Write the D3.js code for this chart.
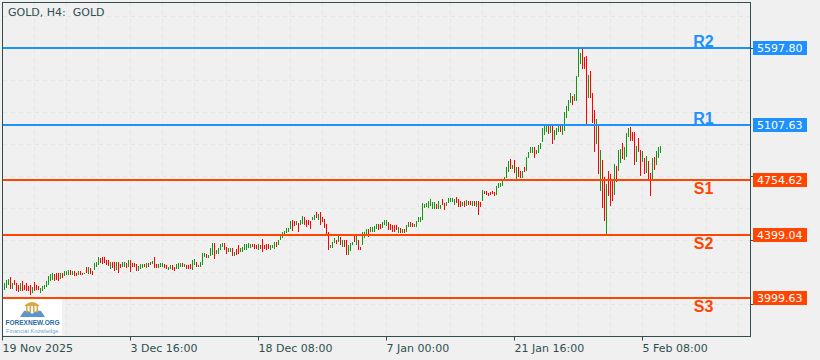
<!DOCTYPE html>
<html>
<head>
<meta charset="utf-8">
<script src="https://cdn.jsdelivr.net/npm/d3@7"></script>
<style>
	html, body { margin: 0; padding: 0; background: #f0f0f0; }
	svg { display: block; }
	text { font-family: "DejaVu Sans", sans-serif; }
</style>
</head>
<body>
<svg id="chart"></svg>
<script>
const barHigh = [
	4098,4115,4122,4132,4098,4111,4094,4083,4094,4109,4083,4094,4073,4083,4068,4100,4083,4073,4066,4073,
	4083,4105,4141,4152,4162,4152,4158,4158,4158,4162,4173,4173,4175,4175,4169,4169,4162,4169,4169,4162,
	4162,4194,4194,4190,4169,4222,4228,4258,4254,4258,4264,4243,4243,4232,4232,4228,4228,4232,4215,4228,
	4228,4222,4239,4243,4222,4222,4215,4205,4215,4217,4215,4222,4222,4228,4237,4260,4215,4215,4222,4222,
	4215,4207,4200,4207,4211,4200,4215,4222,4222,4222,4215,4211,4211,4215,4243,4247,4232,4211,4228,4286,
	4286,4281,4275,4318,4350,4350,4303,4318,4343,4350,4350,4328,4318,4318,4318,4296,4313,4339,4318,4328,
	4345,4345,4350,4345,4345,4343,4339,4345,4339,4375,4339,4345,4345,4339,4339,4356,4356,4371,4403,4422,
	4428,4445,4445,4494,4499,4494,4494,4477,4499,4524,4516,4499,4499,4494,4516,4531,4548,4535,4548,4516,
	4505,4473,4420,4339,4356,4382,4371,4399,4392,4371,4371,4371,4339,4350,4360,4403,4403,4371,4328,4420,
	4424,4439,4439,4452,4452,4460,4473,4473,4473,4488,4499,4499,4488,4473,4467,4467,4467,4456,4445,4439,
	4439,4467,4482,4488,4477,4473,4494,4514,4514,4605,4599,4605,4616,4633,4612,4612,4599,4622,4595,4633,
	4605,4612,4637,4641,4641,4631,4644,4633,4616,4612,4622,4627,4622,4616,4616,4616,4616,4616,4612,4690,
	4680,4680,4673,4675,4680,4675,4716,4733,4737,4744,4771,4839,4876,4888,4850,4882,4839,4839,4812,4812,
	4839,4903,4935,4963,4963,4963,4946,4978,4988,5085,5112,5106,5099,5110,5106,5074,5084,5106,5106,5112,
	5191,5229,5265,5310,5293,5304,5419,5596,5568,5596,5542,5549,5425,5451,5310,5202,5144,5106,4946,4882,
	4775,4729,4812,4791,4761,4857,4844,4946,4952,4991,4965,5055,5087,5093,5061,5061,4972,5023,4946,4940,
	4897,4908,4876,4799,4897,4903,4940,4965,4972
];
const barLow = [
	4051,4062,4083,4056,4058,4083,4041,4037,4045,4041,4051,4045,4041,4019,4034,4045,4051,4047,4034,4041,
	4056,4068,4083,4105,4115,4105,4115,4105,4120,4126,4137,4143,4147,4143,4147,4141,4137,4143,4147,4147,
	4152,4158,4152,4154,4147,4175,4196,4207,4222,4215,4222,4211,4205,4186,4190,4169,4175,4158,4190,4194,
	4196,4190,4194,4164,4200,4194,4169,4173,4183,4190,4194,4190,4196,4211,4215,4190,4190,4190,4194,4200,
	4190,4186,4179,4186,4179,4169,4186,4186,4194,4200,4196,4183,4183,4183,4179,4211,4200,4200,4200,4207,
	4258,4254,4254,4269,4275,4249,4281,4281,4307,4324,4307,4281,4290,4296,4269,4269,4275,4281,4296,4296,
	4303,4307,4318,4318,4324,4313,4311,4307,4313,4296,4311,4303,4311,4307,4318,4311,4328,4335,4371,4382,
	4407,4414,4420,4441,4428,4460,4465,4422,4467,4471,4467,4456,4467,4441,4499,4499,4509,4499,4467,4488,
	4445,4409,4303,4318,4318,4350,4345,4360,4339,4328,4328,4271,4271,4301,4339,4360,4339,4307,4307,4339,
	4382,4403,4392,4418,4424,4424,4439,4435,4439,4445,4467,4460,4435,4435,4424,4418,4435,4414,4414,4414,
	4414,4418,4452,4452,4452,4456,4456,4482,4482,4499,4573,4578,4573,4584,4569,4569,4569,4569,4567,4595,
	4563,4584,4605,4612,4612,4595,4605,4578,4578,4584,4580,4584,4595,4595,4590,4590,4578,4531,4580,4616,
	4665,4658,4652,4658,4665,4652,4658,4701,4707,4716,4744,4765,4803,4825,4822,4797,4761,4771,4765,4765,
	4803,4812,4893,4929,4929,4897,4918,4925,4950,4999,5042,5063,5048,5052,4984,5010,5042,5063,5063,5042,
	5067,5152,5195,5246,5234,5259,5259,5414,5496,5464,5464,5112,5280,5280,5119,4935,4984,4793,4680,4577,
	4494,4409,4654,4590,4616,4658,4743,4814,4863,4889,4878,4903,5031,5005,5005,4850,4871,4933,4782,4871,
	4793,4799,4761,4648,4759,4818,4850,4895,4929
];
// 1 = rising bar (green), 0 = falling bar (red)
const barUp = [
	1,1,1,0,1,0,0,0,1,0, 0,0,0,0,1,0,0,0,1,1, 1,1,1,1,1,0,0,0,1,0, 1,1,1,0,1,0,0,1,0,0,
	1,0,1,0,0,1,1,1,0,0, 0,0,0,1,0,0,1,0,0,1, 1,0,1,0,0,0,0,1,1,1, 0,1,0,1,1,0,0,1,1,1,
	0,0,1,1,0,0,1,1,1,0, 1,0,0,0,1,1,0,1,1,1, 1,0,1,1,1,0,1,1,1,1, 0,0,1,1,0,1,0,0,1,1,
	1,1,1,1,0,0,0,1,0,0, 0,0,0,1,1,1,0,1,1,1, 1,1,1,1,0,0,1,0,1,1, 0,0,0,0,1,1,0,1,0,0,
	0,0,0,1,1,1,0,1,0,1, 0,0,1,1,1,0,1,0,0,1, 1,1,0,1,1,1,1,0,0,1, 1,1,0,0,0,0,0,1,0,1,
	0,1,1,0,0,1,1,1,1,1, 1,1,1,1,1,1,0,1,1,0, 0,1,1,1,1,1,0,0,0,1, 0,1,0,0,1,0,1,0,0,1,
	0,0,0,0,0,0,1,1,1,1, 1,1,1,0,1,0,1,0,0,1, 0,1,1,1,1,0,1,1,1,1, 1,1,0,1,0,1,1,1,0,1,
	1,1,1,1,0,1,1,1,1,0, 0,0,1,0,0,0,1,0,1,0, 0,1,0,0,0,1,0,1,1,0, 1,1,1,0,0,0,1,0,0,1,
	0,1,0,0,1,0,1,1,1
];

const levelNames = ["R2", "R1", "S1", "S2", "S3"];
const levelPrices = [5597.80, 5107.63, 4754.62, 4399.04, 3999.63];
const timeLabels = ["19 Nov 2025", "3 Dec 16:00", "18 Dec 08:00", "7 Jan 00:00", "21 Jan 16:00", "5 Feb 08:00"];
const timeIndex = [-1, 63, 127, 191, 255, 319];

const width = 820, height = 360;
const plot = { left: 2.5, right: 750.5, top: 2.5, bottom: 336.5 };
const blue = "#1e90ff", orange = "#ff4500", axisColor = "#2f4f4f";

const svg = d3.select("#chart").attr("width", width).attr("height", height);

// one bar every 2px, price scale pinned on the two outer levels
const xScale = d3.scaleLinear().domain([0, 328]).range([4.5, 660.5]);
const yScale = d3.scaleLinear().domain([3999.63, 5597.80]).range([297.9, 47.9]);

// Grid
const grid = svg.append("g")
	.attr("stroke", "#e6e6e6")
	.attr("stroke-dasharray", "4,4")
	.attr("shape-rendering", "crispEdges");

grid.selectAll(".gv")
	.data(d3.range(-1, 372, 16))
	.enter().append("line")
	.attr("x1", d => xScale(d)).attr("x2", d => xScale(d))
	.attr("y1", plot.top).attr("y2", plot.bottom);

grid.selectAll(".gh")
	.data(d3.range(16.5, 336, 32))
	.enter().append("line")
	.attr("x1", plot.left).attr("x2", plot.right)
	.attr("y1", d => d).attr("y2", d => d);

// Bars
svg.append("g")
	.attr("shape-rendering", "crispEdges")
	.selectAll("line")
	.data(barHigh)
	.enter().append("line")
	.attr("x1", (d, i) => xScale(i))
	.attr("x2", (d, i) => xScale(i))
	.attr("y1", d => yScale(d))
	.attr("y2", (d, i) => yScale(barLow[i]))
	.attr("stroke", (d, i) => barUp[i] ? "#149614" : "#ff0000")
	.attr("stroke-width", 1);

// Levels
const levelColor = d => d[0] === "R" ? blue : orange;

svg.append("g")
	.attr("shape-rendering", "crispEdges")
	.selectAll("line")
	.data(levelPrices)
	.enter().append("line")
	.attr("x1", plot.left).attr("x2", plot.right)
	.attr("y1", d => Math.round(yScale(d))).attr("y2", d => Math.round(yScale(d)))
	.attr("stroke", (d, i) => levelColor(levelNames[i]))
	.attr("stroke-width", 2);

svg.append("g").selectAll("text")
	.data(levelNames)
	.enter().append("text")
	.attr("x", 703.5)
	.attr("y", (d, i) => Math.round(yScale(levelPrices[i])) + (d[0] === "R" ? -1 : 14))
	.attr("text-anchor", "middle")
	.attr("fill", levelColor)
	.style("font-family", "'Liberation Sans', sans-serif")
	.style("font-weight", "bold")
	.style("font-size", "16px")
	.text(d => d);

// Frame and axes
svg.append("rect")
	.attr("x", plot.left).attr("y", plot.top)
	.attr("width", plot.right - plot.left).attr("height", plot.bottom - plot.top)
	.attr("fill", "none").attr("stroke", axisColor);

const xAxis = d3.axisBottom(xScale)
	.tickValues(timeIndex)
	.tickSize(4)
	.offset(0)
	.tickFormat((d, i) => timeLabels[i]);

const xAxisGroup = svg.append("g")
	.attr("transform", `translate(0,${plot.bottom})`)
	.call(xAxis);
xAxisGroup.select(".domain").remove();
xAxisGroup.selectAll("line").attr("stroke", axisColor);
xAxisGroup.selectAll("text")
	.attr("text-anchor", "start")
	.attr("x", 0)
	.attr("y", 7.5)
	.attr("fill", axisColor)
	.style("font-size", "11px");

const yAxis = d3.axisRight(yScale)
	.tickValues([48, 176, 240, 304].map(yScale.invert))
	.tickSize(3)
	.tickFormat("");

const yAxisGroup = svg.append("g")
	.attr("transform", `translate(${plot.right},0)`)
	.call(yAxis);
yAxisGroup.select(".domain").remove();
yAxisGroup.selectAll("line").attr("stroke", axisColor);

// Price tags
const tags = svg.append("g").selectAll("g")
	.data(levelPrices)
	.enter().append("g")
	.attr("transform", d => `translate(753,${Math.round(yScale(d)) - 7})`);

tags.append("rect")
	.attr("width", 54).attr("height", 14)
	.attr("fill", (d, i) => levelColor(levelNames[i]));

tags.append("text")
	.attr("x", 4).attr("y", 11)
	.attr("fill", "#ffffff")
	.style("font-size", "11px")
	.text(d => d.toFixed(2));

// Title
svg.append("text")
	.attr("x", 8).attr("y", 16)
	.attr("fill", axisColor)
	.attr("xml:space", "preserve")
	.style("white-space", "pre")
	.style("font-size", "11px")
	.text("GOLD, H4:  GOLD");

// Logo
const logo = svg.append("g");
logo.append("rect")
	.attr("x", 3).attr("y", 299).attr("width", 59).attr("height", 36)
	.attr("fill", "#ffffff");
logo.append("path")
	.attr("d", "M20,317 L24,311 Q29,310 32,314 Q36,310 41,311 L45,317 Z")
	.attr("fill", "#5b95cf");
logo.append("path")
	.attr("d", "M25,305 Q32,299 39,305 L39,306 L25,306 Z")
	.attr("fill", "#d8aa45");
logo.selectAll(".column")
	.data([26, 29.5, 33, 36.5])
	.enter().append("rect")
	.attr("x", d => d).attr("y", 306)
	.attr("width", 1.6).attr("height", 6.5)
	.attr("fill", "#d8aa45");
logo.append("text")
	.attr("x", 5.5).attr("y", 324.5)
	.attr("textLength", 54).attr("lengthAdjust", "spacingAndGlyphs")
	.attr("fill", "#2a6aa5")
	.style("font-family", "'Liberation Sans', sans-serif")
	.style("font-weight", "bold")
	.style("font-size", "7.5px")
	.text("FOREXNEW.ORG");
logo.append("text")
	.attr("x", 6).attr("y", 333)
	.attr("textLength", 54).attr("lengthAdjust", "spacing")
	.attr("fill", "#6ea0c8")
	.style("font-family", "'Liberation Sans', sans-serif")
	.style("font-size", "5.5px")
	.text("Financial Knowledge.");
</script>
</body>
</html>
